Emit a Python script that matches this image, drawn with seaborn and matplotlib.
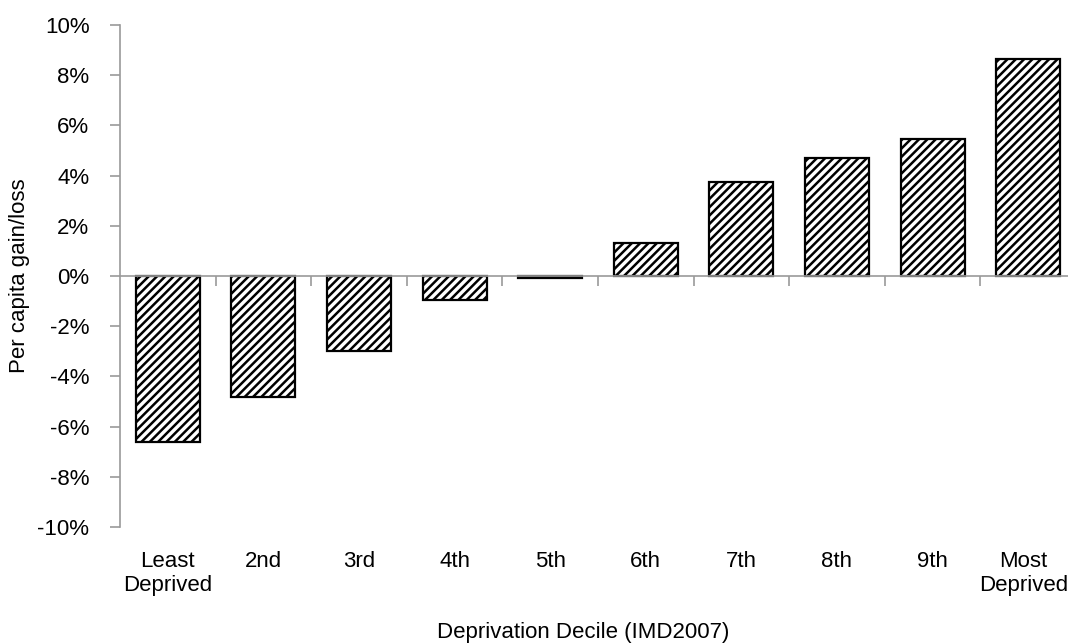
import matplotlib
matplotlib.use("Agg")
import matplotlib.pyplot as plt
import matplotlib.transforms as mtransforms
import seaborn as sns
import numpy as np
import pandas as pd

# Per capita gain/loss by deprivation decile (percent)
deciles = ["Least\nDeprived", "2nd", "3rd", "4th", "5th", "6th", "7th", "8th", "9th", "Most\nDeprived"]
change_pct = [-6.61, -4.84, -3.0, -0.95, -0.08, 1.32, 3.73, 4.7, 5.46, 8.66]
y_ticks = [-10, -8, -6, -4, -2, 0, 2, 4, 6, 8, 10]

sns.set_theme(style="white")
plt.rcParams["font.family"] = ["Liberation Sans", "DejaVu Sans"]
plt.rcParams["axes.unicode_minus"] = False
plt.rcParams["hatch.linewidth"] = 1.8
plt.rcParams["hatch.color"] = "black"

FS = 16
W, H = 1068, 644
fig = plt.figure(figsize=(W / 100, H / 100), dpi=100)
left, top, bottom, width = 120, 25, 527, 956
ax = fig.add_axes([left / W, 1 - bottom / H, width / W, (bottom - top) / H])

df = pd.DataFrame({"decile": deciles, "change": change_pct})
sns.barplot(data=df, x="decile", y="change", color="white", edgecolor="black",
            linewidth=1.6, width=0.67, saturation=1, ax=ax)
for p in ax.patches:
    p.set_hatch("////")
    p.set_facecolor("white")
    p.set_edgecolor("black")

ax.set_ylim(-10, 10)
ax.set_xlim(-0.5, len(deciles) - 0.5)

axis_grey = "#9a9a9a"
for s in ["top", "right"]:
    ax.spines[s].set_visible(False)
ax.spines["left"].set_color(axis_grey)
ax.spines["left"].set_linewidth(1.2)
ax.spines["bottom"].set_position(("data", 0))
ax.spines["bottom"].set_color(axis_grey)
ax.spines["bottom"].set_linewidth(1.2)

ax.set_yticks(y_ticks)
ax.set_yticklabels([f"{v}%" for v in y_ticks])
ax.tick_params(axis="y", direction="out", length=7, width=1.2, color=axis_grey,
               labelsize=FS, labelcolor="black", pad=15, left=True)

# category boundaries marked on the zero line
ax.set_xticks(np.arange(len(deciles)))
ax.set_xticklabels([])
ax.tick_params(axis="x", which="major", length=0)
ax.set_xticks(np.arange(len(deciles)) + 0.5, minor=True)
ax.tick_params(axis="x", which="minor", direction="out", length=7, width=1.2,
               color=axis_grey, bottom=True)

# category labels sit below the plot area
sec = ax.secondary_xaxis("bottom")
sec.set_xticks(np.arange(len(deciles)))
sec.set_xticklabels(deciles, fontsize=FS, color="black", linespacing=1.2)
sec.tick_params(axis="x", length=0, pad=17)
sec.spines["bottom"].set_visible(False)

ax.set_xlabel("Deprivation Decile (IMD2007)", fontsize=FS, color="black", va="baseline")
ax.xaxis.set_label_coords(0.485, -0.221)
ax.set_ylabel("Per capita gain/loss", fontsize=FS, color="black")
ax.yaxis.set_label_coords(-0.094, 0.5)

# keep the last category label inside the canvas edge
fig.canvas.draw()
last = sec.xaxis.get_major_ticks()[-1].label1
last.set_transform(last.get_transform() +
                   mtransforms.ScaledTranslation(-5 / 100, 0, fig.dpi_scale_trans))

fig.savefig("out.png", dpi=100)
